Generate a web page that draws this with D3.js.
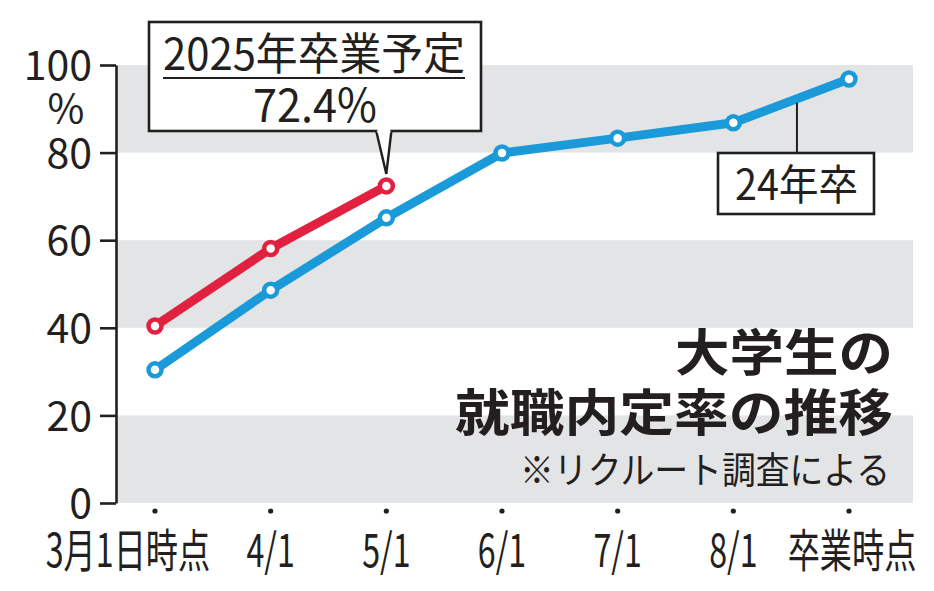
<!DOCTYPE html>
<html><head><meta charset="utf-8">
<script src="https://cdn.jsdelivr.net/npm/d3@7"></script>
<style>
html,body{margin:0;padding:0;background:#fff;}
svg{display:block;}
text{font-family:"Noto Sans CJK JP","Noto Sans",sans-serif;fill:#231f20;}
</style></head>
<body><svg id="c" width="934" height="591"></svg>
<script>
const categories = ["3月1日時点","4/1","5/1","6/1","7/1","8/1","卒業時点"];
const grad24 = [30.4, 48.6, 65.1, 79.9, 83.3, 86.8, 96.8];
const grad25 = [40.4, 58.1, 72.4];
const yTicks = [0, 20, 40, 60, 80, 100];
const bands = [[0,20],[40,60],[80,100]];
const title = ["大学生の","就職内定率の推移"];
const note = "※リクルート調査による";
const callout25 = ["2025年卒業予定","72.4%"];
const label24 = "24年卒";

const svg = d3.select("#c");
const x = d3.scalePoint().domain(categories).range([155, 849]);
const y = d3.scaleLinear().domain([0,100]).range([503, 65]);
const axisX = 116, plotRight = 913;
const blue = "#1a9ad8", red = "#e2203f", grey = "#e3e4e6";

// bands
svg.append("g").selectAll("rect").data(bands).join("rect")
  .attr("x", axisX).attr("width", plotRight - axisX)
  .attr("y", d => y(d[1])).attr("height", d => y(d[0]) - y(d[1]))
  .attr("fill", grey);

// y axis
const ya = svg.append("g").attr("transform", `translate(${axisX},0)`)
  .call(d3.axisLeft(y).tickValues(yTicks).tickSize(16).tickPadding(8).tickSizeOuter(0));
ya.select(".domain").attr("stroke", "#231f20").attr("stroke-width", 2.6);
ya.selectAll(".tick line").attr("stroke", "#231f20").attr("stroke-width", 2.6);
ya.selectAll(".tick text").attr("font-size", 41).attr("fill", "#231f20")
  .attr("font-family", "'Noto Sans CJK JP',sans-serif").attr("dy", "0.36em")
  .attr("x", -24);
svg.append("text").attr("x", 66).attr("y", 123).attr("text-anchor", "middle")
  .attr("font-size", 40).text("%");

// x ticks (dots) and labels
svg.append("g").selectAll("circle").data(categories).join("circle")
  .attr("cx", d => x(d)).attr("cy", 511).attr("r", 2.6).attr("fill", "#231f20");
svg.append("g").selectAll("text").data(categories).join("text")
  .attr("transform", (d,i) => {
    let cx = x(d);
    if (i === 0) cx = 128;
    if (i === categories.length - 1) cx = 852;
    return `translate(${cx},567) scale(0.7,1)`;
  })
  .attr("text-anchor", "middle").attr("font-size", 46).text(d => d);

// lines
const line = d3.line().x((d,i) => x(categories[i])).y(d => y(d));
function series(data, color) {
  svg.append("path").datum(data).attr("d", line).attr("fill", "none")
    .attr("stroke", color).attr("stroke-width", 9).attr("stroke-linejoin", "round");
  svg.append("g").selectAll("circle").data(data).join("circle")
    .attr("cx", (d,i) => x(categories[i])).attr("cy", d => y(d)).attr("r", 6.5)
    .attr("fill", "#fff").attr("stroke", color).attr("stroke-width", 4.5);
}
series(grad24, blue);
series(grad25, red);

// callout for 2025
const px = x(categories[grad25.length - 1]), py = y(grad25[grad25.length - 1]);
svg.append("rect").attr("x", 149).attr("y", 22).attr("width", 332).attr("height", 109)
  .attr("fill", "#fff").attr("stroke", "#231f20").attr("stroke-width", 2.6);
svg.append("path").attr("d", `M${px-10},131.5 L${px},${py-12} L${px+5},131.5`)
  .attr("fill", "#fff").attr("stroke", "#231f20").attr("stroke-width", 2.4);
svg.append("rect").attr("x", px-9).attr("y", 128).attr("width", 13).attr("height", 5).attr("fill", "#fff");
svg.append("line").attr("x1", 163).attr("x2", 465).attr("y1", 78).attr("y2", 78)
  .attr("stroke", "#231f20").attr("stroke-width", 2);
svg.append("text").attr("x", 163).attr("y", 70).attr("font-size", 44)
  .attr("textLength", 302).attr("lengthAdjust", "spacingAndGlyphs").text(callout25[0]);
svg.append("text").attr("x", 253).attr("y", 122).attr("font-size", 46)
  .attr("textLength", 124).attr("lengthAdjust", "spacingAndGlyphs").text(callout25[1]);

// 24年卒 label
const t = 0.55;
const lx = x(categories[5]) + t * (x(categories[6]) - x(categories[5]));
const ly = y(grad24[5]) + t * (y(grad24[6]) - y(grad24[5]));
svg.append("line").attr("x1", lx).attr("x2", lx).attr("y1", ly + 4).attr("y2", 153)
  .attr("stroke", "#231f20").attr("stroke-width", 2);
svg.append("rect").attr("x", 718).attr("y", 153).attr("width", 156).attr("height", 61)
  .attr("fill", "#fff").attr("stroke", "#231f20").attr("stroke-width", 2.6);
svg.append("text").attr("x", 735).attr("y", 200).attr("font-size", 42)
  .attr("textLength", 123).attr("lengthAdjust", "spacingAndGlyphs").text(label24);

// title
svg.append("text").attr("x", 893).attr("y", 371).attr("text-anchor", "end")
  .attr("font-size", 50).attr("font-weight", 700)
  .attr("textLength", 218).attr("lengthAdjust", "spacingAndGlyphs").text(title[0]);
svg.append("text").attr("x", 893).attr("y", 431).attr("text-anchor", "end")
  .attr("font-size", 50).attr("font-weight", 700)
  .attr("textLength", 438).attr("lengthAdjust", "spacingAndGlyphs").text(title[1]);
svg.append("text").attr("x", 890).attr("y", 484).attr("text-anchor", "end")
  .attr("font-size", 37)
  .attr("textLength", 370).attr("lengthAdjust", "spacingAndGlyphs").text(note);
</script>
</body></html>
